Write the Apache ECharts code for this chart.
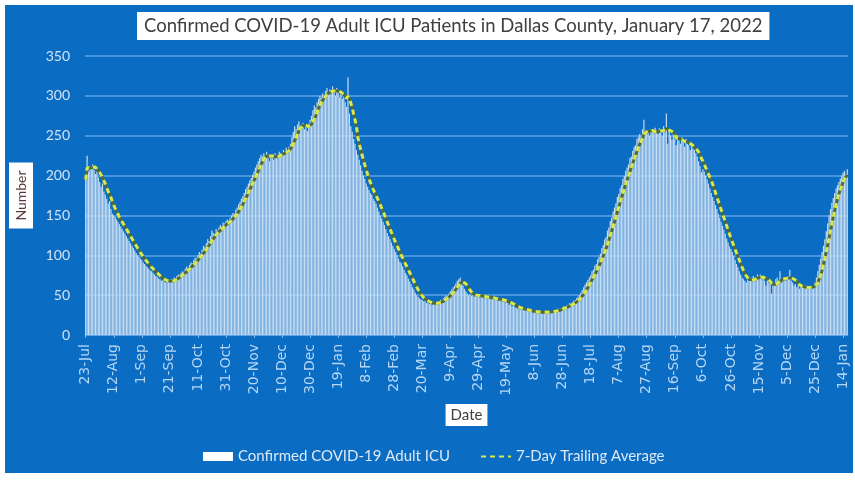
<!DOCTYPE html>
<html><head><meta charset="utf-8">
<script src="https://cdn.jsdelivr.net/npm/echarts@6/dist/echarts.min.js"></script>
<style>
html,body{margin:0;padding:0;background:#fff;}
#frame{position:absolute;left:5px;top:5px;width:848px;height:468px;background:#0b6cc3;}
#chart{position:absolute;left:0;top:0;width:855px;height:480px;}
</style></head><body>
<div id="frame"></div><div id="chart"></div>
<script>
const titleText = 'Confirmed COVID-19 Adult ICU Patients in Dallas County, January 17, 2022';
const barName = 'Confirmed COVID-19 Adult ICU';
const avgName = '7-Day Trailing Average';
const monthNames = ['Jan','Feb','Mar','Apr','May','Jun','Jul','Aug','Sep','Oct','Nov','Dec'];
const firstDay = [2020, 6, 23]; // 23-Jul-2020
const yTicks = [0, 50, 100, 150, 200, 250, 300, 350];
// daily confirmed adult ICU patients, 23-Jul-2020 .. 17-Jan-2022
const dailyICU = [
195,225,205,212,210,214,207,202,205,198,192,186,190,180,176,171,165,168,158,152,
150,148,145,142,139,136,133,130,127,124,121,118,115,112,109,106,103,100,98,96,
94,91,89,87,85,83,81,80,78,76,74,73,71,70,68,69,67,66,68,67,
66,70,68,72,71,74,76,75,78,80,79,83,86,84,88,91,90,94,97,96,
100,104,102,107,112,110,115,120,118,124,131,128,126,133,131,135,138,136,141,140,
143,145,142,147,150,153,152,157,160,164,167,171,174,178,183,186,190,194,197,201,
205,210,214,218,222,226,224,228,225,230,222,218,226,224,220,228,225,222,230,228,
226,232,229,235,231,236,240,248,255,262,258,264,268,262,260,266,258,262,256,265,
270,275,282,288,285,292,296,300,298,303,300,306,310,304,308,302,312,306,300,310,
305,298,302,296,300,292,286,323,278,262,255,246,240,232,226,220,213,206,200,196,
190,186,182,178,176,171,168,165,160,155,150,146,142,138,133,128,124,120,116,112,
108,104,100,96,92,90,86,82,78,75,71,67,64,60,57,53,50,48,46,45,
44,42,43,40,41,39,40,38,41,40,39,42,41,44,43,46,48,50,49,52,
55,57,60,62,65,68,70,72,66,62,58,55,52,50,51,49,50,48,51,50,
49,47,50,48,46,49,47,48,46,45,47,44,46,45,43,44,45,42,43,41,
42,40,38,39,36,37,35,34,33,34,32,33,31,32,30,31,30,29,30,29,
28,29,30,28,29,27,29,28,30,29,28,30,29,30,31,30,32,33,32,34,
35,36,35,37,38,40,39,41,43,44,46,48,50,53,56,60,63,66,69,72,
75,80,82,87,89,95,98,102,109,113,120,123,131,135,143,147,155,160,165,173,
177,184,188,196,199,206,210,214,222,224,231,236,238,246,248,252,250,258,270,255,
252,256,250,258,255,253,260,257,252,259,256,250,262,255,278,240,258,250,245,252,
246,238,250,244,240,248,242,236,246,240,238,232,238,234,232,228,224,218,212,204,
208,205,200,195,190,184,178,173,168,163,158,152,147,142,137,132,127,121,116,111,
108,104,99,94,89,85,80,76,72,70,68,66,70,68,72,70,74,68,72,76,
72,76,70,74,68,62,70,66,64,52,66,62,70,72,68,80,66,70,72,68,
70,74,82,68,66,62,64,60,62,58,61,60,59,62,58,60,59,61,60,62,
66,72,80,88,96,104,112,120,130,140,150,158,166,172,178,184,188,192,196,200,
204,206,202,208
];
const dates = dailyICU.map((_, i) => {
  const d = new Date(Date.UTC(firstDay[0], firstDay[1], firstDay[2] + i));
  return d.getUTCDate() + '-' + monthNames[d.getUTCMonth()];
});
const trailingAvg = dailyICU.map((v, i) => {
  const w = dailyICU.slice(Math.max(0, i - 6), i + 1);
  return Math.round(w.reduce((a, b) => a + b, 0) / w.length * 10) / 10;
});

const chart = echarts.init(document.getElementById('chart'), null, {renderer: 'canvas'});
chart.setOption({
  animation: false,
  backgroundColor: 'transparent',
  textStyle: {fontFamily: 'Lato'},
  title: {
    text: titleText, left: 137, top: 12,
    backgroundColor: '#ffffff', padding: [5, 7, 4, 7],
    textStyle: {color: '#404040', fontSize: 18.5, fontWeight: 'normal', fontFamily: 'Lato'}
  },
  legend: {
    left: 198, top: 444, itemWidth: 30, itemHeight: 9, itemGap: 30,
    textStyle: {color: '#dde9f6', fontSize: 15, fontFamily: 'Lato'},
    data: [
      {name: barName, icon: 'rect', itemStyle: {color: '#ffffff'}},
      {name: avgName, itemStyle: {opacity: 0}}
    ]
  },
  grid: {left: 85, right: 7, top: 56, bottom: 145},
  xAxis: {
    type: 'category', data: dates, boundaryGap: true,
    name: 'Date', nameLocation: 'middle', nameGap: 69,
    nameTextStyle: {color: '#404040', backgroundColor: '#ffffff', padding: [4, 5, 3, 5], fontSize: 15, fontFamily: 'Lato'},
    axisLine: {lineStyle: {color: '#5ea3e6', width: 1}},
    axisTick: {show: true, interval: 19, alignWithLabel: true, length: 3, lineStyle: {color: '#7fb5ea'}},
    axisLabel: {interval: 19, rotate: 90, color: '#b4d6f5', fontSize: 14, margin: 9, fontFamily: 'DejaVu Sans'},
    splitLine: {show: false}
  },
  yAxis: {
    type: 'value', min: yTicks[0], max: yTicks[yTicks.length - 1], interval: 50,
    name: 'Number', nameLocation: 'middle', nameRotate: 90, nameGap: 52,
    nameTextStyle: {color: '#5a3a3a', backgroundColor: '#ffffff', padding: [5, 8, 5, 8], fontSize: 14, fontFamily: 'Lato'},
    axisLine: {show: false}, axisTick: {show: false},
    axisLabel: {color: '#d2e4f6', fontSize: 14, margin: 15, fontFamily: 'Lato'},
    splitLine: {lineStyle: {color: '#5ea3e6', width: 1.5}}
  },
  series: [
    {
      name: barName, type: 'bar', data: dailyICU, barCategoryGap: '15%',
      itemStyle: {color: '#c6dcf2'}, z: 2
    },
    {
      name: 'avgBase', type: 'line', data: trailingAvg, symbol: 'none', silent: true,
      lineStyle: {color: '#4f6b3d', width: 3}, z: 3
    },
    {
      name: avgName, type: 'line', data: trailingAvg, symbol: 'none',
      lineStyle: {color: '#d9e84c', width: 3, type: [5, 4]}, z: 4
    }
  ]
});
</script></body></html>
